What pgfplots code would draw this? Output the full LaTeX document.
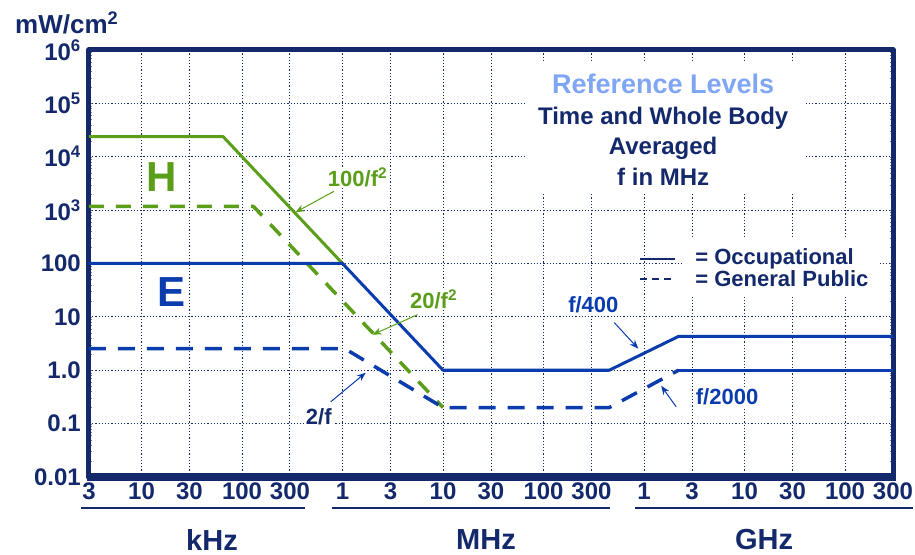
\documentclass[border=0pt]{standalone}
\usepackage{fontspec}
\setmainfont{Liberation Sans}
\usepackage{pgfplots}
\pgfplotsset{compat=1.18}
\usetikzlibrary{arrows.meta}

\definecolor{navy}{HTML}{13296B}
\definecolor{eblue}{HTML}{0A3CAE}
\definecolor{hgreen}{HTML}{5A9E1A}
\definecolor{lblue}{HTML}{7EA6F5}

\newcommand{\fs}[1]{\fontsize{#1bp}{#1bp}\selectfont\bfseries}

\begin{document}
\begin{tikzpicture}
\useasboundingbox (0,0) rectangle (915bp,555bp);
\begin{axis}[
  at={(89bp,78bp)}, anchor=south west,
  scale only axis, width=804bp, height=427bp,
  xmode=log, ymode=log,
  xmin=0.003, xmax=3e5, ymin=0.01, ymax=1e6,
  xtick={0.003,0.01,0.03,0.1,0.3,1,3,10,30,100,300,1000,3000,1e4,3e4,1e5,3e5},
  xticklabels={3,10,30,100,300,1,3,10,30,100,300,1,3,10,30,100,300},
  ytick={0.01,0.1,1,10,100,1000,1e4,1e5,1e6},
  yticklabels={0.01,0.1,1.0,10,100,10\textsuperscript{3},10\textsuperscript{4},10\textsuperscript{5},10\textsuperscript{6}},
  major tick length=0pt,
  grid=major,
  major grid style={navy, line width=1bp, dash pattern=on 1.2bp off 2bp},
  axis line style={navy, line width=5bp},
  xticklabel style={font=\fs{24}, text=navy, anchor=north, inner sep=0pt, yshift=-6bp},
  yticklabel style={font=\fs{24}, text=navy, anchor=east, inner sep=0pt, xshift=-8bp},
  clip=false,
  line join=round,
]
% H field
\addplot[hgreen, line width=3bp] coordinates {(0.003,2.37e4) (0.065,2.37e4) (1,100)};
\addplot[hgreen, line width=3.5bp, dash pattern=on 15bp off 12bp] coordinates {(0.003,1170) (0.13,1170) (10,0.2)};
% E field
\addplot[eblue, line width=3bp] coordinates {(0.003,100) (1,100) (10,1) (450,1) (2200,4.3) (3e5,4.3)};
\addplot[eblue, line width=3.5bp, dash pattern=on 17bp off 12bp] coordinates {(0.003,2.55) (1.05,2.55) (10,0.2) (450,0.2) (2200,1)};
\addplot[eblue, line width=3bp] coordinates {(2200,1) (3e5,1)};

% title block
\fill[white] (axis cs:66,1.98e3) rectangle (axis cs:4.0e4,5.95e5);
\node[font=\fs{27}, text=lblue, anchor=base] at (axis cs:1.55e3,1.56e5) {Reference Levels};
\node[font=\fs{24}, text=navy, anchor=base] at (axis cs:1.55e3,4.08e4) {Time and Whole Body};
\node[font=\fs{24}, text=navy, anchor=base] at (axis cs:1.55e3,1.11e4) {Averaged};
\node[font=\fs{24}, text=navy, anchor=base] at (axis cs:1.55e3,2.92e3) {f in MHz};

% legend
\fill[white] (axis cs:2.45e3,24) rectangle (axis cs:2.23e5,282);
\draw[navy, line width=2bp] (axis cs:918,124) -- (axis cs:2.05e3,124);
\draw[navy, line width=2bp, dash pattern=on 7bp off 5bp] (axis cs:918,52) -- (axis cs:2.05e3,52);
\node[anchor=west, inner sep=0pt, font=\fs{22}, text=navy] at (axis cs:3.23e3,124) {= Occupational};
\node[anchor=west, inner sep=0pt, font=\fs{22}, text=navy] at (axis cs:3.23e3,52) {= General Public};

% labels
\node[font=\fs{42}, text=hgreen] at (axis cs:0.0159,4.1e3) {H};
\node[font=\fs{42}, text=eblue] at (axis cs:0.020,29.8) {E};

\node[font=\fs{22}, text=hgreen, fill=white, inner sep=1bp] at (axis cs:1.41,4.1e3) {100/f\textsuperscript{2}};
\draw[hgreen, line width=1bp, -{Stealth[length=9bp,width=7bp]}] (axis cs:0.82,2250) -- (axis cs:0.34,910);

\node[font=\fs{22}, text=hgreen, fill=white, inner sep=1bp] at (axis cs:8.05,21.1) {20/f\textsuperscript{2}};
\draw[hgreen, line width=1bp, -{Stealth[length=9bp,width=7bp]}] (axis cs:5.58,11) -- (axis cs:1.99,4.64);

\node[font=\fs{22}, text=navy, fill=white, inner sep=2bp] at (axis cs:0.58,0.134) {2/f};
\draw[eblue, line width=1bp, -{Stealth[length=9bp,width=7bp]}] (axis cs:0.762,0.256) -- (axis cs:1.70,0.90);

\node[font=\fs{22}, text=eblue, fill=white, inner sep=2bp] at (axis cs:313,17) {f/400};
\draw[eblue, line width=1bp, -{Stealth[length=9bp,width=7bp]}] (axis cs:506,7.8) -- (axis cs:877,2.53);

\node[font=\fs{22}, text=eblue, fill=white, inner sep=2bp] at (axis cs:6.7e3,0.318) {f/2000};
\draw[eblue, line width=1bp, -{Stealth[length=9bp,width=7bp]}] (axis cs:2.09e3,0.206) -- (axis cs:1.48e3,0.512);
\end{axis}

% heavier bottom frame
\draw[navy, line width=8bp] (86.5bp,78bp) -- (895.5bp,78bp);
% unit groups
\draw[navy, line width=2bp] (81bp,47bp) -- (305bp,47bp);
\draw[navy, line width=2bp] (332bp,47bp) -- (610bp,47bp);
\draw[navy, line width=2bp] (635bp,47bp) -- (913bp,47bp);
\node[font=\fs{29}, text=navy] at (212bp,15bp) {kHz};
\node[font=\fs{29}, text=navy] at (486bp,15bp) {MHz};
\node[font=\fs{29}, text=navy] at (764bp,15bp) {GHz};
\node[font=\fs{26}, text=navy, anchor=west, inner sep=0pt] at (15bp,532bp) {mW/cm\textsuperscript{2}};
\end{tikzpicture}
\end{document}
